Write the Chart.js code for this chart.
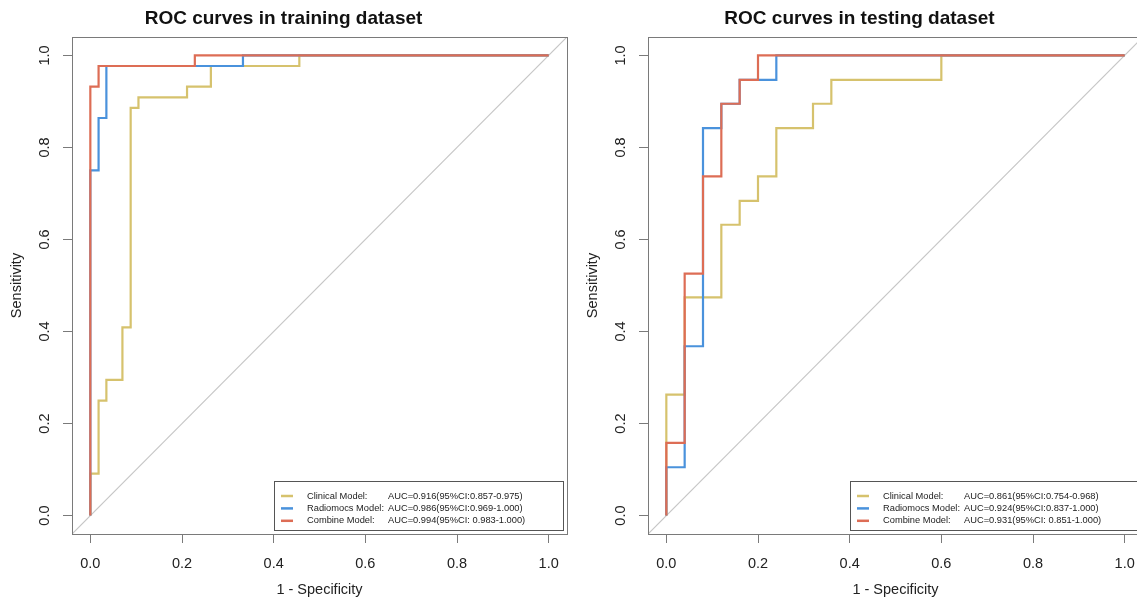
<!DOCTYPE html>
<html>
<head>
<meta charset="utf-8">
<title>ROC curves</title>
<script src="https://cdn.jsdelivr.net/npm/chart.js@4.4.1/dist/chart.umd.min.js"></script>
<style>
  html, body { margin: 0; padding: 0; background: #fff; overflow: hidden; }
  body { width: 1137px; height: 601px; position: relative; }
  canvas { position: absolute; top: 0; }
</style>
</head>
<body>
<canvas id="roc-train" width="639" height="601" style="left:0"></canvas>
<canvas id="roc-test" width="639" height="601" style="left:576px"></canvas>
<script>
(function () {
    "use strict";

    /** Axis settings */
    var axisRange = [-0.04, 1.04];
    var tickValues = [0, 0.2, 0.4, 0.6, 0.8, 1.0];

    /** Legend text */
    var modelNames = ['Clinical Model:', 'Radiomocs Model:', 'Combine Model:'];
    var trainAuc = ['AUC=0.916(95%CI:0.857-0.975)', 'AUC=0.986(95%CI:0.969-1.000)', 'AUC=0.994(95%CI: 0.983-1.000)'];
    var testAuc = ['AUC=0.861(95%CI:0.754-0.968)', 'AUC=0.924(95%CI:0.837-1.000)', 'AUC=0.931(95%CI: 0.851-1.000)'];
    var modelColors = ['#D6C26D', '#4A92DC', '#DD6D55'];

    /** Training dataset curves (1 - specificity, sensitivity) */
    var trainClinicalFpr = [0, 0, 0.018, 0.018, 0.035, 0.035, 0.070, 0.070, 0.088, 0.088, 0.105, 0.105, 0.211, 0.211, 0.263, 0.263, 0.456, 0.456, 1];
    var trainClinicalTpr = [0, 0.091, 0.091, 0.25, 0.25, 0.295, 0.295, 0.409, 0.409, 0.886, 0.886, 0.909, 0.909, 0.932, 0.932, 0.977, 0.977, 1, 1];
    var trainRadiomicsFpr = [0, 0, 0.018, 0.018, 0.035, 0.035, 0.333, 0.333, 1];
    var trainRadiomicsTpr = [0, 0.75, 0.75, 0.864, 0.864, 0.977, 0.977, 1, 1];
    var trainCombineFpr = [0, 0, 0.018, 0.018, 0.228, 0.228, 1];
    var trainCombineTpr = [0, 0.932, 0.932, 0.977, 0.977, 1, 1];

    /** Testing dataset curves */
    var testClinicalFpr = [0, 0, 0.04, 0.04, 0.12, 0.12, 0.16, 0.16, 0.2, 0.2, 0.24, 0.24, 0.32, 0.32, 0.36, 0.36, 0.6, 0.6, 1];
    var testClinicalTpr = [0, 0.263, 0.263, 0.474, 0.474, 0.632, 0.632, 0.684, 0.684, 0.737, 0.737, 0.842, 0.842, 0.895, 0.895, 0.947, 0.947, 1, 1];
    var testRadiomicsFpr = [0, 0, 0.04, 0.04, 0.08, 0.08, 0.12, 0.12, 0.16, 0.16, 0.24, 0.24, 1];
    var testRadiomicsTpr = [0, 0.105, 0.105, 0.368, 0.368, 0.842, 0.842, 0.895, 0.895, 0.947, 0.947, 1, 1];
    var testCombineFpr = [0, 0, 0.04, 0.04, 0.08, 0.08, 0.12, 0.12, 0.16, 0.16, 0.2, 0.2, 1];
    var testCombineTpr = [0, 0.158, 0.158, 0.526, 0.526, 0.737, 0.737, 0.895, 0.895, 0.947, 0.947, 1, 1];

    var FONT = "'Liberation Sans', Arial, sans-serif";
    var AXIS_GRAY = '#7a7a7a';

    function points(xs, ys) {
        return xs.map(function (x, i) { return { x: x, y: ys[i] }; });
    }

    /** Plot frame like R's box() */
    var boxPlugin = {
        id: 'rBox',
        afterDatasetsDraw: function (chart) {
            var a = chart.chartArea, ctx = chart.ctx;
            ctx.save();
            ctx.strokeStyle = AXIS_GRAY;
            ctx.lineWidth = 1;
            ctx.strokeRect(Math.round(a.left) + 0.5, Math.round(a.top) + 0.5,
                           Math.round(a.right - a.left), Math.round(a.bottom - a.top));
            ctx.restore();
        }
    };

    /** Bottom right legend with two text columns */
    var legendPlugin = {
        id: 'rocLegend',
        afterDraw: function (chart, args, opts) {
            var a = chart.chartArea, ctx = chart.ctx;
            var left = a.left + 202, right = a.right - 4;
            var bottom = a.bottom - 4, top = bottom - 49;
            ctx.save();
            ctx.fillStyle = '#fff';
            ctx.fillRect(left, top, right - left, bottom - top);
            ctx.strokeStyle = '#555';
            ctx.lineWidth = 1;
            ctx.strokeRect(Math.round(left) + 0.5, Math.round(top) + 0.5,
                           Math.round(right - left), Math.round(bottom - top));
            ctx.font = '9.3px ' + FONT;
            ctx.textBaseline = 'middle';
            ctx.textAlign = 'left';
            opts.names.forEach(function (name, i) {
                var y = top + 15 + i * 12.4;
                ctx.strokeStyle = opts.colors[i];
                ctx.lineWidth = 2.5;
                ctx.beginPath();
                ctx.moveTo(left + 7, y);
                ctx.lineTo(left + 19, y);
                ctx.stroke();
                ctx.fillStyle = '#222';
                ctx.fillText(name, left + 33, y);
                ctx.fillText(opts.aucs[i], left + 114, y);
            });
            ctx.restore();
        }
    };

    function axis(isY, titleText) {
        return {
            type: 'linear',
            min: axisRange[0],
            max: axisRange[1],
            afterBuildTicks: function (scale) {
                scale.ticks = tickValues.map(function (v) { return { value: v }; });
            },
            afterFit: function (scale) {
                if (isY) { scale.width = 72; } else { scale.height = 67; }
            },
            border: { display: false },
            grid: {
                drawOnChartArea: false,
                drawTicks: true,
                tickLength: 9,
                color: AXIS_GRAY,
                tickColor: AXIS_GRAY,
                lineWidth: 1
            },
            ticks: {
                color: '#222',
                font: { family: FONT, size: 14.5 },
                padding: isY ? 8 : 12,
                minRotation: isY ? 90 : 0,
                maxRotation: isY ? 90 : 0,
                crossAlign: isY ? 'center' : 'near',
                autoSkip: false,
                callback: function (v) { return Number(v).toFixed(1); }
            },
            title: {
                display: true,
                text: titleText,
                color: '#222',
                font: { family: FONT, size: 14.5 },
                padding: isY ? { top: 8, bottom: 0 } : { top: 0, bottom: 2 }
            }
        };
    }

    function rocChart(canvasId, titleText, curves, aucs) {
        var ctx = document.getElementById(canvasId).getContext('2d');
        var datasets = [];
        // Combine model drawn on top, clinical at the bottom
        [2, 1, 0].forEach(function (k, order) {
            datasets.push({
                label: modelNames[k],
                data: points(curves[k][0], curves[k][1]),
                borderColor: modelColors[k],
                borderWidth: 2.2,
                pointRadius: 0,
                tension: 0,
                fill: false,
                order: order
            });
        });
        datasets.push({
            label: 'reference',
            data: points(axisRange, axisRange),
            borderColor: '#C6C6C6',
            borderWidth: 1.2,
            pointRadius: 0,
            fill: false,
            order: 3
        });

        return new Chart(ctx, {
            type: 'line',
            data: { datasets: datasets },
            options: {
                responsive: false,
                animation: false,
                devicePixelRatio: 1,
                layout: { padding: { left: 0, right: 72, top: 7, bottom: 0 } },
                scales: {
                    x: axis(false, '1 - Specificity'),
                    y: axis(true, 'Sensitivity')
                },
                plugins: {
                    legend: { display: false },
                    tooltip: { enabled: false },
                    title: {
                        display: true,
                        text: titleText,
                        color: '#111',
                        font: { family: FONT, size: 19, weight: 'bold' },
                        padding: { top: 0, bottom: 7.2 }
                    },
                    rocLegend: { names: modelNames, aucs: aucs, colors: modelColors }
                }
            },
            plugins: [boxPlugin, legendPlugin]
        });
    }

    rocChart('roc-train', 'ROC curves in training dataset', [
        [trainClinicalFpr, trainClinicalTpr],
        [trainRadiomicsFpr, trainRadiomicsTpr],
        [trainCombineFpr, trainCombineTpr]
    ], trainAuc);

    rocChart('roc-test', 'ROC curves in testing dataset', [
        [testClinicalFpr, testClinicalTpr],
        [testRadiomicsFpr, testRadiomicsTpr],
        [testCombineFpr, testCombineTpr]
    ], testAuc);
})();
</script>
</body>
</html>
